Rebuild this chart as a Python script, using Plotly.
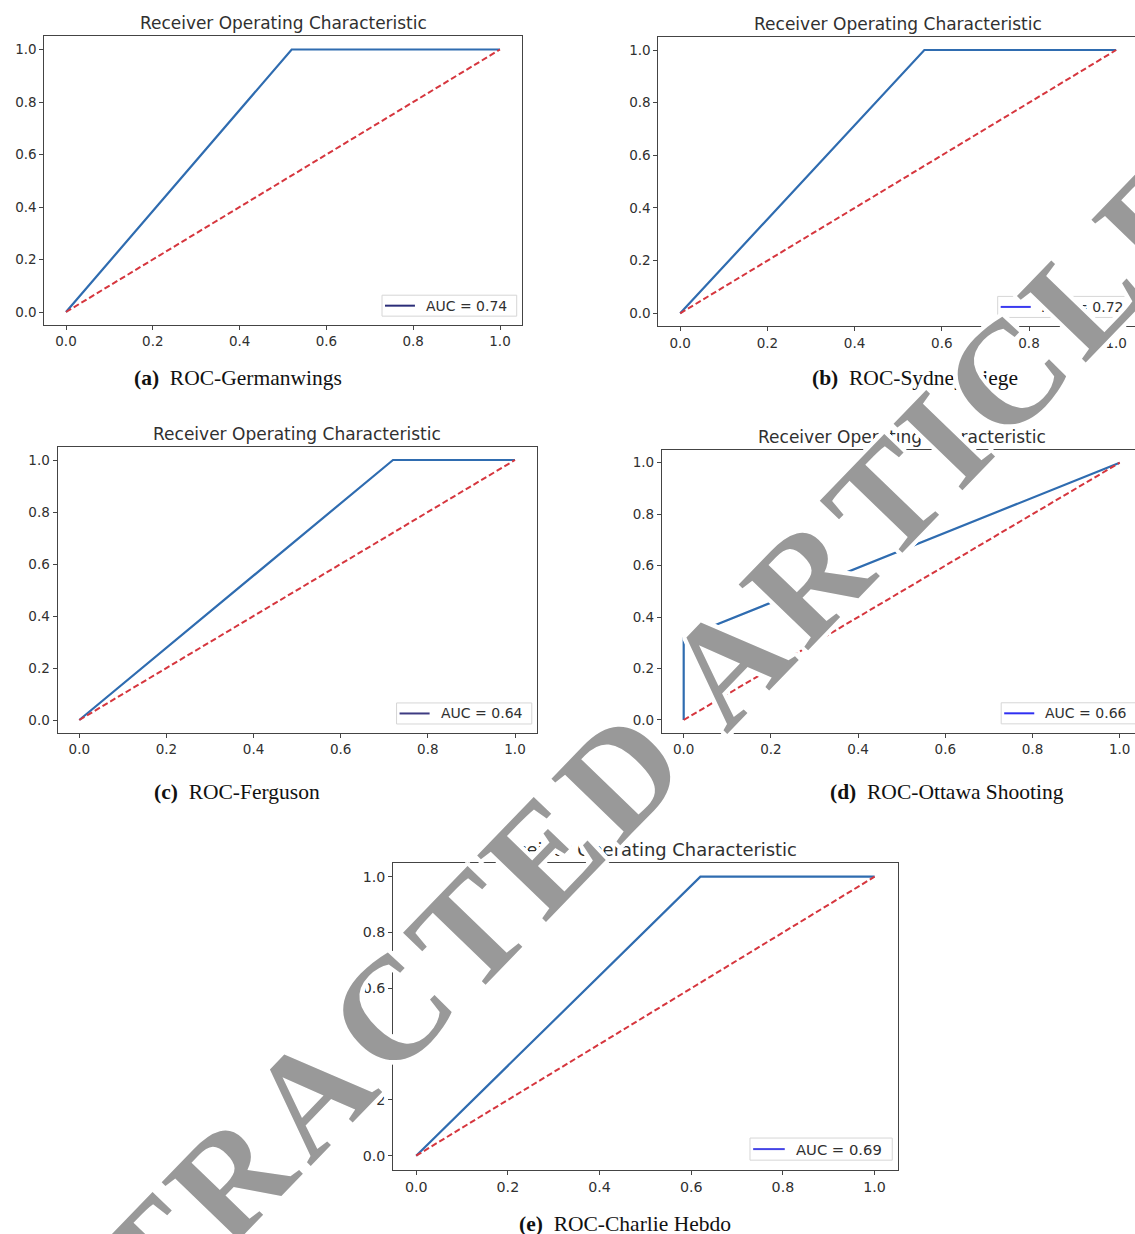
import math
import plotly.graph_objects as go

W, H = 1135, 1234

# ---------------- data ----------------
fpr_a = [0.0, 0.52, 1.0]
tpr_a = [0.0, 1.0, 1.0]
fpr_b = [0.0, 0.56, 1.0]
tpr_b = [0.0, 1.0, 1.0]
fpr_c = [0.0, 0.72, 1.0]
tpr_c = [0.0, 1.0, 1.0]
fpr_d = [0.0, 0.0, 1.0]
tpr_d = [0.0, 0.32, 1.0]
fpr_e = [0.0, 0.62, 1.0]
tpr_e = [0.0, 1.0, 1.0]
chance_x = [0.0, 1.0]
chance_y = [0.0, 1.0]
auc_values = [0.74, 0.72, 0.64, 0.66, 0.69]
panel_letters = ["(a)", "(b)", "(c)", "(d)", "(e)"]
panel_names = ["ROC-Germanwings", "ROC-Sydney Siege", "ROC-Ferguson",
               "ROC-Ottawa Shooting", "ROC-Charlie Hebdo"]
tick_values = [0.0, 0.2, 0.4, 0.6, 0.8, 1.0]
tick_labels = ["0.0", "0.2", "0.4", "0.6", "0.8", "1.0"]
plot_title = "Receiver Operating Characteristic"
watermark_text = "RETRACTED ARTICLE"

curves = [(fpr_a, tpr_a), (fpr_b, tpr_b), (fpr_c, tpr_c), (fpr_d, tpr_d), (fpr_e, tpr_e)]

# ---------------- geometry (pixels) ----------------
# x pixel of data 0, px per unit x, y pixel of data 0, px per unit y
geom = [
    (66.0, 434.0, 312.0, 262.5),
    (680.2, 436.0, 313.3, 263.3),
    (79.3, 435.7, 720.0, 260.0),
    (683.7, 436.0, 720.0, 257.3),
    (416.2, 458.4, 1155.7, 279.0),
]
caption_pos = [(237.5, 378), (914.5, 378), (237, 792), (947, 792), (625, 1224)]
legend_line_colors = ["#2b2d78", "#3a3af0", "#3e3b82", "#2f2ff2", "#4545e6"]

CURVE = "#2f6cb0"
CHANCE = "#d6363e"
AXC = "#444444"
TXT = "#303030"

fig = go.Figure()
annotations = []
shapes = []
layout_extra = {}

def px(xp):
    return xp / W

def py(yp):
    return 1 - yp / H

for i, (x0, ux, y0, uy) in enumerate(geom):
    k = "" if i == 0 else str(i + 1)
    s = ux / 435.0
    left = x0 - 0.05 * ux
    right = x0 + 1.05 * ux
    top = y0 - 1.05 * uy
    bottom = y0 + 0.05 * uy
    clipped = right > W
    dom_right = min(right, W)
    xmax = (dom_right - x0) / ux

    fx, ty = curves[i]
    fig.add_trace(go.Scatter(x=fx, y=ty, mode="lines",
                             line=dict(color=CURVE, width=2.2),
                             xaxis="x" + k, yaxis="y" + k, showlegend=False,
                             hoverinfo="skip"))
    fig.add_trace(go.Scatter(x=chance_x, y=chance_y, mode="lines",
                             line=dict(color=CHANCE, width=2, dash="6px,3px"),
                             xaxis="x" + k, yaxis="y" + k, showlegend=False,
                             hoverinfo="skip"))

    tickfont = dict(family="DejaVu Sans", size=13.5 * s, color=TXT)
    layout_extra["xaxis" + k] = dict(
        domain=[px(left), px(dom_right)], range=[-0.05, xmax], anchor="y" + k,
        showline=True, linecolor=AXC, linewidth=1, mirror=True,
        ticks="outside", ticklen=4, tickcolor=AXC, tickwidth=1,
        tickvals=tick_values, ticktext=tick_labels, showgrid=False, zeroline=False,
        tickfont=tickfont, fixedrange=True,
    )
    layout_extra["yaxis" + k] = dict(
        domain=[py(bottom), py(top)], range=[-0.05, 1.05], anchor="x" + k,
        showline=True, linecolor=AXC, linewidth=1, mirror=(not clipped),
        ticks="outside", ticklen=4, tickcolor=AXC, tickwidth=1,
        tickvals=tick_values, ticktext=tick_labels, showgrid=False, zeroline=False,
        tickfont=tickfont, fixedrange=True,
    )

    # legend (drawn as box + sample line + text)
    bx1 = right - 5 * s
    bx0 = bx1 - 135 * s
    bcy = bottom - 19.5 * s
    bh = 10.5 * s
    shapes.append(dict(type="rect", xref="paper", yref="paper",
                       x0=px(bx0), x1=px(bx1), y0=py(bcy + bh), y1=py(bcy - bh),
                       line=dict(color="#d6d6d6", width=1),
                       fillcolor="rgba(255,255,255,0.85)", layer="above"))
    shapes.append(dict(type="line", xref="paper", yref="paper",
                       x0=px(bx0 + 3 * s), x1=px(bx0 + 33 * s), y0=py(bcy), y1=py(bcy),
                       line=dict(color=legend_line_colors[i], width=2), layer="above"))
    annotations.append(dict(
        text="AUC = %.2f" % auc_values[i], xref="paper", yref="paper",
        x=px(bx0 + 42 * s), y=py(bcy), xanchor="left", yanchor="middle",
        showarrow=False, font=dict(family="DejaVu Sans", size=14 * s, color=TXT),
    ))

    # subplot title
    annotations.append(dict(
        text=plot_title, xref="paper", yref="paper",
        x=px((left + right) / 2), y=py(top - 13 * s),
        xanchor="center", yanchor="middle", showarrow=False,
        font=dict(family="DejaVu Sans", size=17 * s, color=TXT),
    ))
    # caption
    cx, cy = caption_pos[i]
    annotations.append(dict(
        text="<b>%s</b>&nbsp;&nbsp;%s" % (panel_letters[i], panel_names[i]),
        xref="paper", yref="paper", x=px(cx), y=py(cy),
        xanchor="center", yanchor="middle", showarrow=False,
        font=dict(family="Liberation Serif", size=21.5, color="#111111"),
    ))

# ---------------- watermark: letters placed along a diagonal ----------------
ADV = {"R": 0.722, "E": 0.667, "T": 0.667, "A": 0.722, "C": 0.722,
       "D": 0.722, "I": 0.389, "L": 0.667, " ": 0.25}
WM_ANGLE = 46.0          # degrees, rising to the right
WM_SPACING = 160.0       # px per em of advance
WM_SIZE = 146            # glyph font size
WM_CX, WM_CY = 578.0, 818.0
dxu = math.cos(math.radians(WM_ANGLE))
dyu = -math.sin(math.radians(WM_ANGLE))
total = sum(ADV[c] for c in watermark_text)
halo = ", ".join("%dpx %dpx 0 #fff" % (dx, dy) for dx, dy in
                 [(4, 0), (-4, 0), (0, 4), (0, -4), (3, 3), (-3, -3), (3, -3), (-3, 3),
                  (2, 4), (-2, 4), (2, -4), (-2, -4), (4, 2), (4, -2), (-4, 2), (-4, -2)])
pos = 0.0
for ch in watermark_text:
    a = ADV[ch]
    if ch != " ":
        t = (pos + a / 2 - total / 2) * WM_SPACING
        lx = WM_CX + t * dxu
        ly = WM_CY + t * dyu
        annotations.append(dict(
            text=ch, xref="paper", yref="paper", x=px(lx), y=py(ly),
            xanchor="center", yanchor="middle", showarrow=False,
            textangle=-WM_ANGLE,
            font=dict(family="Liberation Serif", size=WM_SIZE, color="#999999",
                      weight="bold", shadow=halo),
        ))
    pos += a

fig.update_layout(
    width=W, height=H, margin=dict(l=0, r=0, t=0, b=0, autoexpand=False),
    paper_bgcolor="white", plot_bgcolor="white",
    annotations=annotations, shapes=shapes, showlegend=False,
    **layout_extra,
)

fig.write_html("out.html",
               config={"displayModeBar": False},
               post_script="document.body.style.margin='0px';"
                           "document.body.style.overflow='hidden';")
